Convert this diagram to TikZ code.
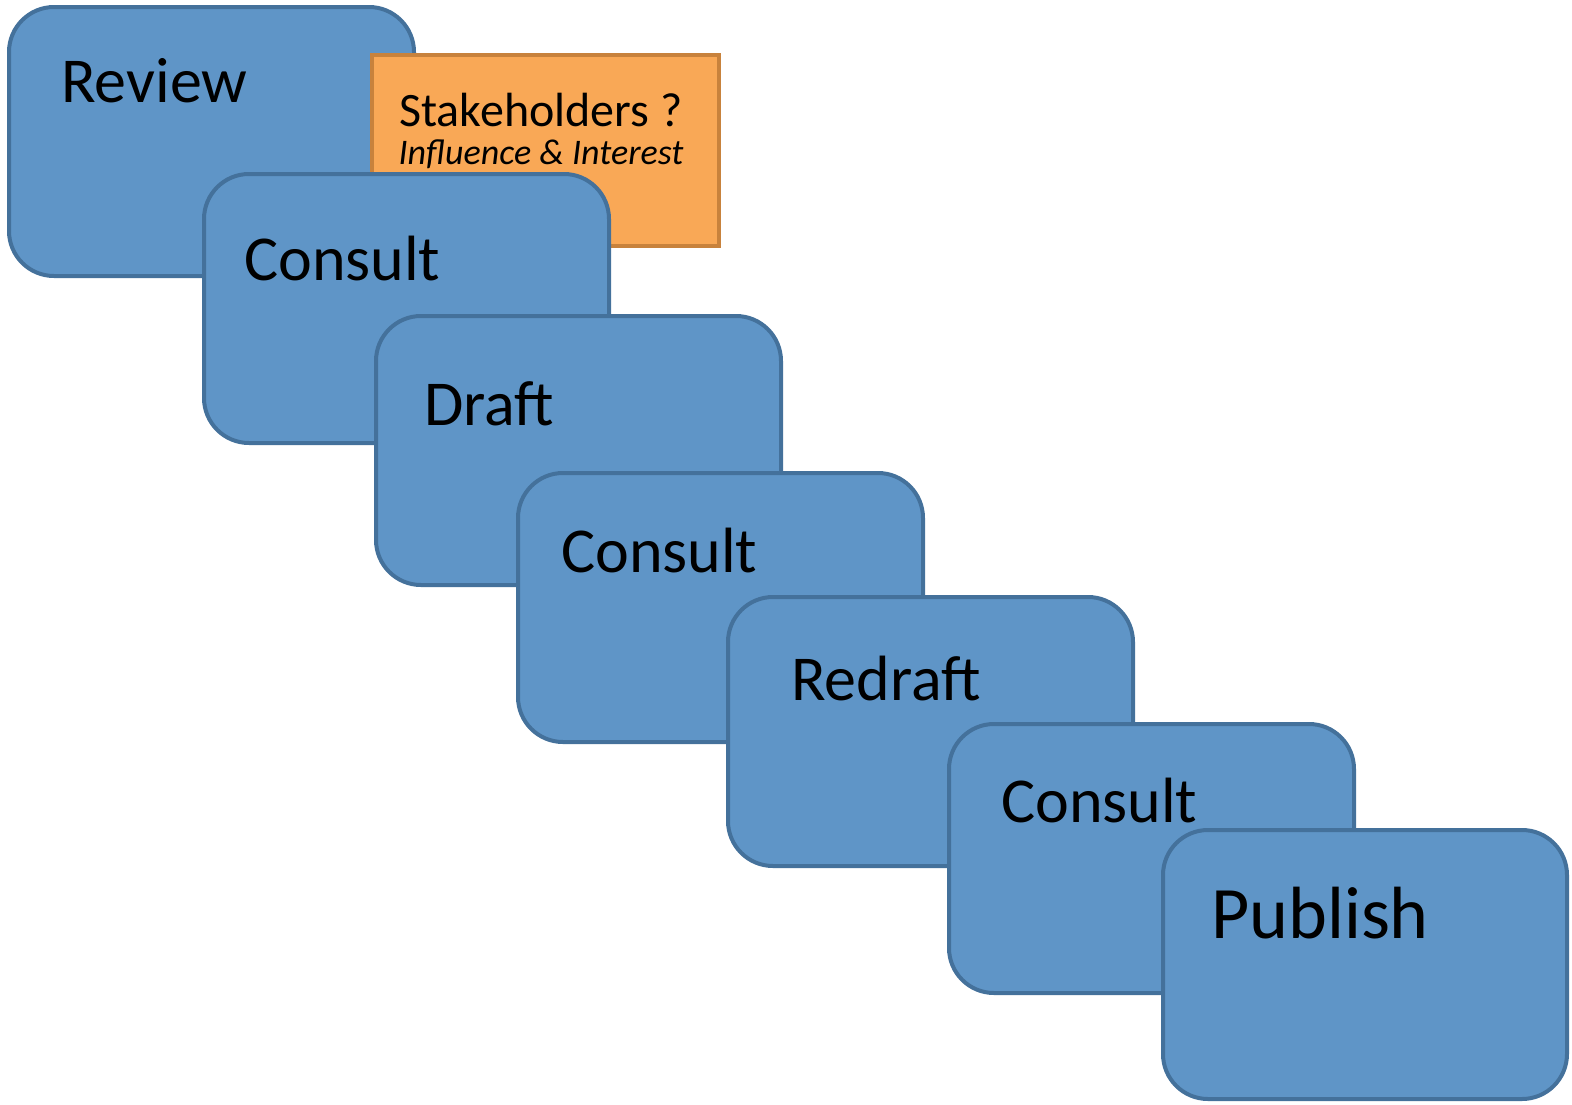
\documentclass[tikz,border=0pt]{standalone}
\usepackage{fontspec}
\setmainfont{Carlito}
\definecolor{boxfill}{HTML}{5F95C7}
\definecolor{boxline}{HTML}{44719B}
\definecolor{orfill}{HTML}{F9A856}
\definecolor{orline}{HTML}{C8823C}
\begin{document}
\begin{tikzpicture}[x=1pt,y=-1pt,
  stagebox/.style={draw=boxline,fill=boxfill,line width=4pt,rounded corners=45pt,
    rectangle,anchor=north west,inner sep=0pt,minimum width=405pt,minimum height=269pt},
  orbox/.style={draw=orline,fill=orfill,line width=3.5pt,rectangle,anchor=north west,
    inner sep=0pt,minimum width=347pt,minimum height=191pt},
  lbl/.style={anchor=base west,inner sep=0pt,font=\fontsize{64}{76}\selectfont},
  slbl/.style={anchor=base,inner sep=0pt,font=\fontsize{48}{58}\selectfont},
  ilbl/.style={anchor=base,inner sep=0pt,font=\fontsize{36}{44}\selectfont\itshape}]
\useasboundingbox (0,0) rectangle (1572,1104);
\node[stagebox] (review) at (7,5) {};
\node[lbl] (treview) at (61,102) {Review};
\node[orbox] (stake) at (370,53) {};
\node[slbl] (tstake) at (541,126) {Stakeholders ?};
\node[ilbl] (tinf) at (541,164) {Influence \& Interest};
\node[stagebox] (consulta) at (202,172) {};
\node[lbl] (tconsulta) at (244,280) {Consult};
\node[stagebox] (draft) at (374,314) {};
\node[lbl] (tdraft) at (424,425) {Draft};
\node[stagebox] (consultb) at (516,471) {};
\node[lbl] (tconsultb) at (561,572) {Consult};
\node[stagebox] (redraft) at (726,595) {};
\node[lbl] (tredraft) at (791,700) {Redraft};
\node[stagebox] (consultc) at (947,722) {};
\node[lbl] (tconsultc) at (1001,822) {Consult};
\node[stagebox,minimum width=404pt] (publish) at (1161,828) {};
\node[lbl,font=\fontsize{74}{88}\selectfont] (tpublish) at (1211,938) {Publish};
\end{tikzpicture}
\end{document}
